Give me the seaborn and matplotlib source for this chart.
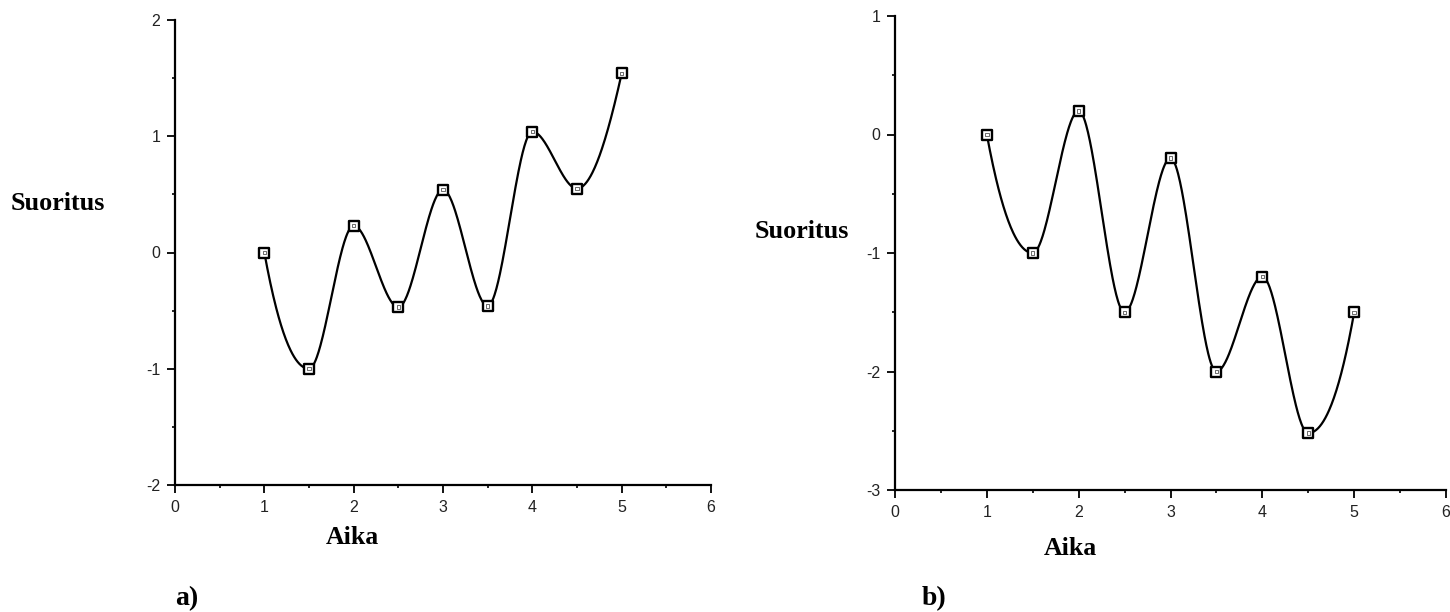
import numpy as np
import pandas as pd
import matplotlib
matplotlib.use("Agg")
import matplotlib.pyplot as plt
from matplotlib.ticker import MultipleLocator
import seaborn as sns

# Measurements over time for the two panels
aika = [1.0, 1.5, 2.0, 2.5, 3.0, 3.5, 4.0, 4.5, 5.0]
suoritus_a = [0.0, -1.0, 0.23, -0.47, 0.54, -0.46, 1.04, 0.55, 1.54]
suoritus_b = [0.0, -1.0, 0.2, -1.5, -0.2, -2.0, -1.2, -2.52, -1.5]

x_ticks = [0, 1, 2, 3, 4, 5, 6]
y_ticks_a = [-2, -1, 0, 1, 2]
y_ticks_b = [-3, -2, -1, 0, 1]


def pchip_curve(x, y, n=600):
    """Shape-preserving cubic Hermite curve through (x, y)."""
    x = np.asarray(x, float)
    y = np.asarray(y, float)
    h = np.diff(x)
    delta = np.diff(y) / h
    k = len(x)
    m = np.zeros(k)
    for i in range(1, k - 1):
        if delta[i - 1] * delta[i] > 0:
            w1 = 2 * h[i] + h[i - 1]
            w2 = h[i] + 2 * h[i - 1]
            m[i] = (w1 + w2) / (w1 / delta[i - 1] + w2 / delta[i])

    def end_slope(h0, h1, d0, d1):
        s = ((2 * h0 + h1) * d0 - h0 * d1) / (h0 + h1)
        if np.sign(s) != np.sign(d0):
            s = 0.0
        elif np.sign(d0) != np.sign(d1) and abs(s) > abs(3 * d0):
            s = 3 * d0
        return s

    m[0] = end_slope(h[0], h[1], delta[0], delta[1])
    m[-1] = end_slope(h[-1], h[-2], delta[-1], delta[-2])

    xs = np.linspace(x[0], x[-1], n)
    idx = np.clip(np.searchsorted(x, xs, side="right") - 1, 0, k - 2)
    t = (xs - x[idx]) / h[idx]
    h00 = 2 * t ** 3 - 3 * t ** 2 + 1
    h10 = t ** 3 - 2 * t ** 2 + t
    h01 = -2 * t ** 3 + 3 * t ** 2
    h11 = t ** 3 - t ** 2
    ys = (h00 * y[idx] + h10 * h[idx] * m[idx]
          + h01 * y[idx + 1] + h11 * h[idx] * m[idx + 1])
    return xs, ys


sns.set_style("ticks")
plt.rcParams["font.family"] = ["Liberation Sans", "DejaVu Sans"]
plt.rcParams["axes.unicode_minus"] = False

W, H = 1450, 612
fig = plt.figure(figsize=(W / 100, H / 100), dpi=100)


def px_axes(left, right, top, bottom):
    return fig.add_axes([left / W, 1 - bottom / H, (right - left) / W, (bottom - top) / H])


def draw_panel(ax, values, yticks):
    xs, ys = pchip_curve(aika, values)
    sns.lineplot(x=xs, y=ys, ax=ax, color="black", linewidth=1.6,
                 sort=False, estimator=None)
    df = pd.DataFrame({"Aika": aika, "Suoritus": values})
    sns.scatterplot(data=df, x="Aika", y="Suoritus", ax=ax, marker="s", s=50,
                    facecolor="white", edgecolor="black", linewidth=1.7, zorder=4)
    sns.scatterplot(data=df, x="Aika", y="Suoritus", ax=ax, marker="s", s=6,
                    facecolor="none", edgecolor="#555555", linewidth=0.6, zorder=5)
    ax.set_xlim(x_ticks[0], x_ticks[-1])
    ax.set_ylim(yticks[0], yticks[-1])
    ax.set_xticks(x_ticks)
    ax.set_yticks(yticks)
    ax.xaxis.set_minor_locator(MultipleLocator(0.5))
    ax.yaxis.set_minor_locator(MultipleLocator(0.5))
    ax.set_xlabel("")
    ax.set_ylabel("")
    for s in ("top", "right"):
        ax.spines[s].set_visible(False)
    for s in ("left", "bottom"):
        ax.spines[s].set_linewidth(1.6)
        ax.spines[s].set_color("black")
    ax.tick_params(which="major", direction="out", length=5.5, width=1.3,
                   labelsize=11.5, colors="black", pad=5)
    ax.tick_params(which="minor", direction="out", length=2.5, width=1.2,
                   colors="black")
    ax.patch.set_alpha(0)
    for lbl in ax.get_xticklabels() + ax.get_yticklabels():
        lbl.set_color("#222222")
    for t in ax.get_children():
        if hasattr(t, "set_clip_on"):
            t.set_clip_on(False)


ax_a = px_axes(175, 711, 20, 485)
draw_panel(ax_a, suoritus_a, y_ticks_a)

ax_b = px_axes(895, 1446, 16, 490)
draw_panel(ax_b, suoritus_b, y_ticks_b)

serif = dict(family=["Liberation Serif", "DejaVu Serif"], fontweight="bold",
             color="black")


def px_text(x, baseline, s, size, ha="center"):
    fig.text(x / W, 1 - baseline / H, s, ha=ha, va="baseline", fontsize=size, **serif)


# Panel a labels
px_text(11, 210, "Suoritus", 18.8, ha="left")
px_text(352, 544, "Aika", 18.5)
px_text(187, 605, "a)", 20)

# Panel b labels
px_text(755, 238, "Suoritus", 18.8, ha="left")
px_text(1070, 555, "Aika", 18.5)
px_text(934, 605, "b)", 20)

fig.savefig("out.png", dpi=100, facecolor="white")
